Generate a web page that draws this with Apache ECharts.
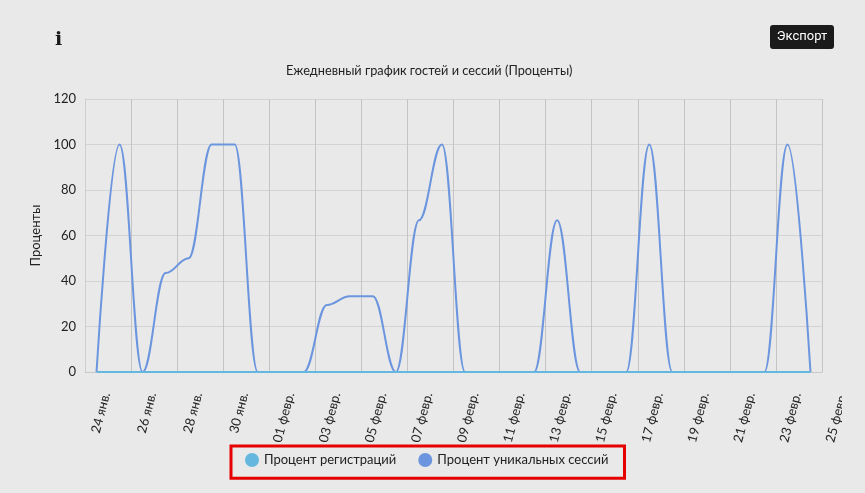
<!DOCTYPE html>
<html><head><meta charset="utf-8">
<script src="https://cdn.jsdelivr.net/npm/echarts@6/dist/echarts.min.js"></script>
<style>html,body{margin:0;padding:0;background:#e9e9e9;}#c{width:865px;height:493px;}</style>
</head><body><div id="c"></div>
<script>
const categories = ['24 янв.','25 янв.','26 янв.','27 янв.','28 янв.','29 янв.','30 янв.','31 янв.',
 '01 февр.','02 февр.','03 февр.','04 февр.','05 февр.','06 февр.','07 февр.','08 февр.','09 февр.','10 февр.',
 '11 февр.','12 февр.','13 февр.','14 февр.','15 февр.','16 февр.','17 февр.','18 февр.','19 февр.','20 февр.',
 '21 февр.','22 февр.','23 февр.','24 февр.'];
const registrations = [0,0,0,0,0,0,0,0,0,0,0,0,0,0,0,0,0,0,0,0,0,0,0,0,0,0,0,0,0,0,0,0];
const uniqueSessions = [0,100,0,43.5,50,100,100,0,0,0,29.5,33.3,33.3,0,66.7,100,0,0,0,0,66.7,0,0,0,100,0,0,0,0,0,100,0];
const extraLabel = '25 февр.';
const yTicks = {min:0, max:120, interval:20};

const chart = echarts.init(document.getElementById('c'));
const font = 'Lato, "Noto Sans", sans-serif';
const ROT = 75, MARGIN = 18, LH = 20;
chart.setOption({
  backgroundColor:'#e9e9e9',
  animation:false,
  title:{text:'Ежедневный график гостей и сессий (Проценты)', left:281, top:59,
    textStyle:{fontFamily:font, fontSize:12.75, fontWeight:'normal', color:'#222'}},
  grid:{left:85, right:43, top:99, bottom:121},
  legend:{data:['Процент регистраций','Процент уникальных сессий'], bottom:21, left:240,
    icon:'circle', itemWidth:14, itemHeight:14, itemGap:22,
    textStyle:{fontFamily:font, fontSize:13, color:'#222'}},
  xAxis:{type:'category', data:categories, boundaryGap:true,
    axisLine:{show:true, lineStyle:{color:'#c8c8c8'}},
    axisTick:{show:false},
    axisLabel:{interval:1, rotate:ROT, margin:MARGIN, lineHeight:LH,
      formatter:function(v){return '\n' + v;}, fontFamily:font, fontSize:13, color:'#222'},
    splitLine:{show:true, interval:1, lineStyle:{color:'#c4c4c4', width:1}}},
  yAxis:{type:'value', min:yTicks.min, max:yTicks.max, interval:yTicks.interval,
    name:'Проценты', nameLocation:'middle', nameGap:39, nameRotate:90,
    nameTextStyle:{fontFamily:font, fontSize:13, color:'#222'},
    axisLine:{show:true, lineStyle:{color:'#cfcfcf'}},
    axisTick:{show:false},
    axisLabel:{fontFamily:font, fontSize:13, color:'#222', margin:9},
    splitLine:{lineStyle:{color:'#d3d3d3', width:1}}},
  series:[
    {name:'Процент уникальных сессий', type:'line', data:uniqueSessions, smooth:0.4, smoothMonotone:'x',
      showSymbol:false, symbol:'circle', color:'#6b95de', lineStyle:{width:2, color:'#6b95de'}},
    {name:'Процент регистраций', type:'line', data:registrations, smooth:true,
      showSymbol:false, symbol:'circle', color:'#66b7e0', lineStyle:{width:2, color:'#66b7e0'}}
  ],
  graphic:[
    {type:'text', left:55, top:31, style:{text:'i', fontFamily:'"DejaVu Serif", serif', fontWeight:'bold', fontSize:19, fill:'#1a1a1a'}},
    {type:'group', left:770, top:25, children:[
      {type:'rect', shape:{x:0,y:0,width:64,height:24,r:3}, style:{fill:'#1b1b1b'}},
      {type:'text', style:{text:'Экспорт', x:32, y:12, align:'center', verticalAlign:'middle',
        fontFamily:'Roboto, "Noto Sans", sans-serif', fontSize:13, fill:'#fff'}}
    ]},
    {type:'rect', z:100, shape:{x:231, y:446, width:393.5, height:32.3}, style:{fill:'none', stroke:'#e60000', lineWidth:3}}
  ]
});
// extra boundary label beyond the last category (drawn like the axis labels)
const p = chart.convertToPixel({xAxisIndex:0}, categories.length-1);
const step = p - chart.convertToPixel({xAxisIndex:0}, categories.length-2);
const y0 = chart.convertToPixel({yAxisIndex:0}, 0);
chart.setOption({graphic:[{}, {}, {},
  {type:'text', id:'extra', x:p+step, y:y0+MARGIN, rotation:ROT*Math.PI/180,
    style:{text:'\n' + extraLabel, align:'right', verticalAlign:'middle', lineHeight:LH,
      fontFamily:font, fontSize:13, fill:'#222'}},
  {type:'rect', id:'clip', z:50, shape:{x:842, y:375, width:30, height:70}, style:{fill:'#e9e9e9'}}
]});
</script></body></html>
